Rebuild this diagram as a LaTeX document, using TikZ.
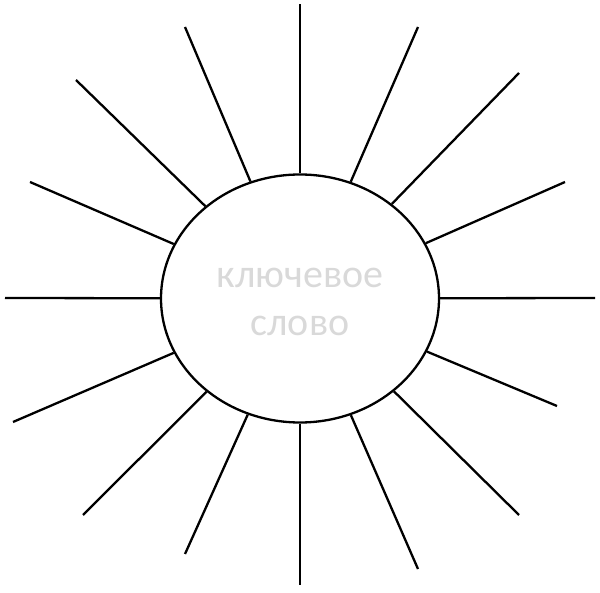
\documentclass[tikz,border=0pt]{standalone}
\usepackage{fontspec}
\setmainfont{Carlito}
\usetikzlibrary{shapes.geometric}
\definecolor{wordgray}{RGB}{217,217,217}
\tikzset{
  ray/.style={draw=black, line width=2.3pt},
  sun/.style={ellipse, draw=black, line width=2.3pt, minimum width=278pt, minimum height=248pt, inner sep=0pt},
  word/.style={text=wordgray, font=\fontsize{40}{48}\selectfont, anchor=base, inner sep=0pt}
}
\begin{document}
\begin{tikzpicture}[x=1pt, y=-1pt]
\useasboundingbox (0,0) rectangle (600,593);
\node[sun] (e) at (300,298.5) {};
\node[word] (w1) at (300,288) {ключевое};
\node[word] (w2) at (300,336) {слово};
% outer ends
\coordinate (o1) at (300,4);
\coordinate (o2) at (418,27);
\coordinate (o3) at (519,73);
\coordinate (o4) at (565,182);
\coordinate (o5) at (595,298);
\coordinate (o6) at (557,406);
\coordinate (o7) at (519,515);
\coordinate (o8) at (418,569);
\coordinate (o9) at (300,585);
\coordinate (o10) at (185,554);
\coordinate (o11) at (83,515);
\coordinate (o12) at (13,422);
\coordinate (o13) at (5,298);
\coordinate (o14) at (30,182);
\coordinate (o15) at (76,80);
\coordinate (o16) at (185,27);
\foreach \i in {1,...,16} {
  \draw[ray] (e) -- (o\i);
}
\end{tikzpicture}
\end{document}
